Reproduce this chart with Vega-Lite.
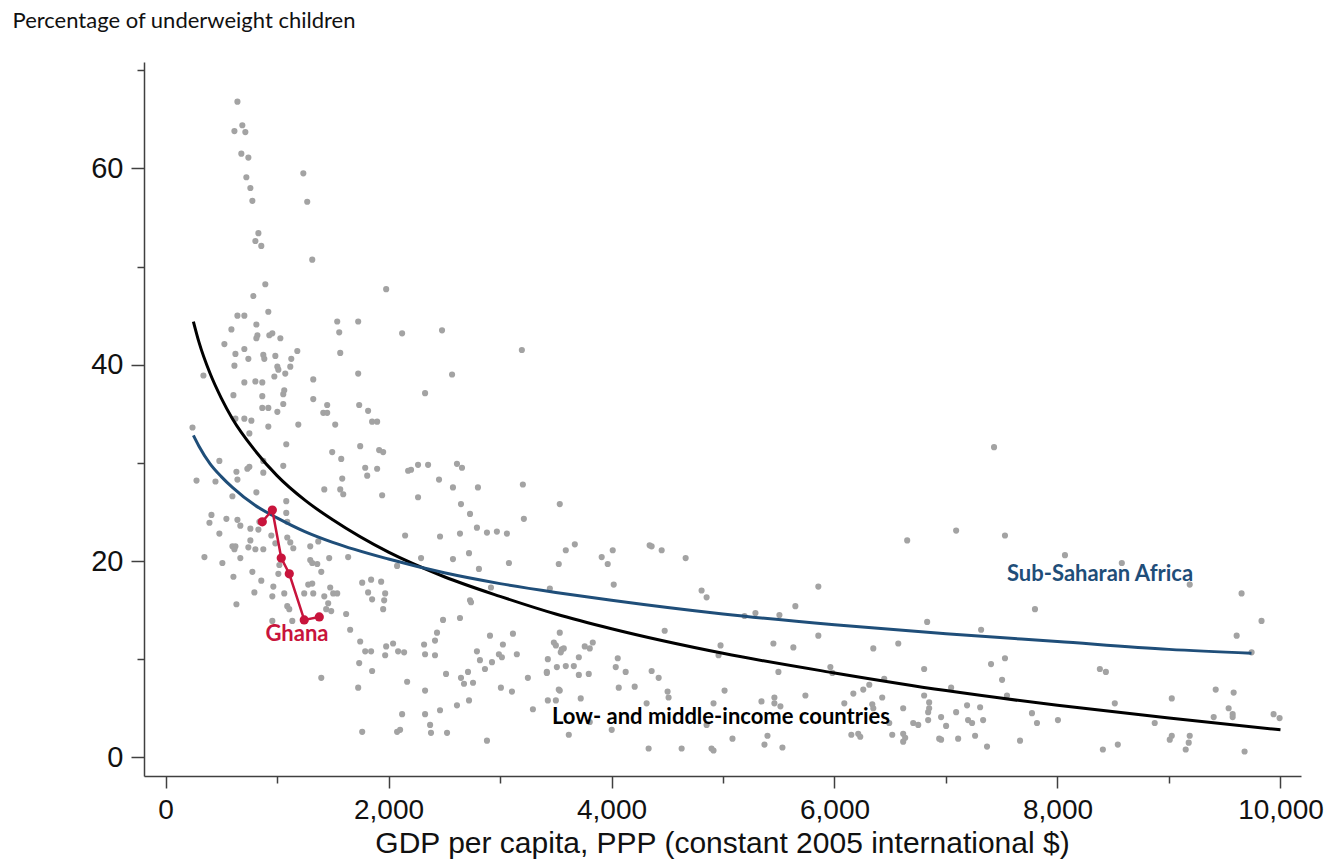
{
"$schema": "https://vega.github.io/schema/vega-lite/v6.json",
"width": 1157, "height": 714,
"autosize": {"type": "none"},
"padding": {"left": 144, "top": 62, "right": 43, "bottom": 83},
"background": "white",
"config": {"view": {"stroke": null}},
"datasets": {
"pts": [
{"x":645,"y":66.8},{"x":689,"y":64.4},{"x":618,"y":63.8},{"x":716,"y":63.7},{"x":680,"y":61.5},{"x":743,"y":61.1},{"x":725,"y":59.1},{"x":761,"y":58.0},{"x":779,"y":56.7},{"x":1236,"y":59.5},
{"x":1271,"y":56.6},{"x":833,"y":53.4},{"x":806,"y":52.6},{"x":859,"y":52.1},{"x":1316,"y":50.7},{"x":895,"y":48.2},{"x":788,"y":47.0},{"x":1979,"y":47.7},{"x":645,"y":45.0},{"x":707,"y":45.0},
{"x":922,"y":45.4},{"x":591,"y":43.6},{"x":815,"y":44.1},{"x":824,"y":43.0},{"x":815,"y":42.7},{"x":931,"y":43.0},{"x":958,"y":43.2},{"x":1030,"y":42.7},{"x":528,"y":42.1},{"x":1540,"y":44.4},
{"x":1728,"y":44.4},{"x":1558,"y":43.3},{"x":2122,"y":43.2},{"x":2480,"y":43.5},{"x":627,"y":41.1},{"x":707,"y":41.6},{"x":743,"y":40.6},{"x":877,"y":41.0},{"x":886,"y":40.6},{"x":985,"y":40.9},
{"x":1128,"y":40.6},{"x":1182,"y":41.4},{"x":1567,"y":41.2},{"x":618,"y":39.9},{"x":1003,"y":39.8},{"x":1012,"y":39.5},{"x":1119,"y":39.8},{"x":1074,"y":39.1},{"x":976,"y":38.8},{"x":1728,"y":39.1},
{"x":2570,"y":39.0},{"x":340,"y":38.9},{"x":1325,"y":38.5},{"x":3196,"y":41.5},{"x":707,"y":38.2},{"x":806,"y":38.3},{"x":868,"y":38.2},{"x":1065,"y":37.4},{"x":1056,"y":37.0},{"x":609,"y":36.9},
{"x":868,"y":36.8},{"x":1325,"y":36.5},{"x":2328,"y":37.1},{"x":868,"y":35.6},{"x":922,"y":35.6},{"x":1003,"y":35.2},{"x":1056,"y":36.0},{"x":1450,"y":35.9},{"x":1415,"y":35.1},{"x":1450,"y":35.1},
{"x":1737,"y":35.9},{"x":1817,"y":35.3},{"x":707,"y":34.5},{"x":770,"y":34.3},{"x":627,"y":34.5},{"x":922,"y":33.7},{"x":1191,"y":33.9},{"x":1522,"y":33.9},{"x":1853,"y":34.2},{"x":1898,"y":34.2},
{"x":752,"y":33.0},{"x":242,"y":33.6},{"x":1083,"y":31.9},{"x":1746,"y":31.7},{"x":1495,"y":31.1},{"x":1916,"y":31.3},{"x":1952,"y":31.1},{"x":1576,"y":30.4},{"x":636,"y":29.1},{"x":645,"y":28.3},
{"x":734,"y":29.4},{"x":752,"y":29.6},{"x":877,"y":30.2},{"x":877,"y":29.0},{"x":1056,"y":29.7},{"x":483,"y":30.2},{"x":448,"y":28.1},{"x":278,"y":28.2},{"x":1791,"y":29.5},{"x":1809,"y":28.7},
{"x":1898,"y":29.4},{"x":2202,"y":29.3},{"x":2265,"y":29.8},{"x":2355,"y":29.8},{"x":2614,"y":29.9},{"x":2659,"y":29.5},{"x":1585,"y":28.4},{"x":2453,"y":28.3},{"x":815,"y":27.0},{"x":1424,"y":27.3},
{"x":1567,"y":27.3},{"x":1594,"y":26.8},{"x":1943,"y":26.7},{"x":2265,"y":26.5},{"x":2578,"y":27.5},{"x":2802,"y":27.5},{"x":1083,"y":26.1},{"x":600,"y":26.6},{"x":2176,"y":29.2},{"x":412,"y":24.7},
{"x":394,"y":23.9},{"x":546,"y":24.3},{"x":645,"y":24.2},{"x":671,"y":23.6},{"x":483,"y":22.8},{"x":600,"y":21.5},{"x":627,"y":21.5},{"x":618,"y":21.2},{"x":671,"y":20.3},{"x":349,"y":20.4},
{"x":510,"y":19.8},{"x":609,"y":18.4},{"x":761,"y":23.3},{"x":833,"y":23.2},{"x":842,"y":24.0},{"x":743,"y":21.4},{"x":761,"y":22.1},{"x":806,"y":21.2},{"x":877,"y":21.2},{"x":949,"y":22.6},
{"x":985,"y":21.8},{"x":1083,"y":24.9},{"x":1092,"y":24.0},{"x":1092,"y":22.4},{"x":1119,"y":21.9},{"x":1146,"y":21.3},{"x":1298,"y":21.5},{"x":1370,"y":22.0},{"x":1298,"y":20.1},{"x":1316,"y":19.8},
{"x":1361,"y":19.7},{"x":1397,"y":18.9},{"x":1468,"y":20.3},{"x":1638,"y":20.4},{"x":1021,"y":19.6},{"x":1012,"y":18.7},{"x":779,"y":18.9},{"x":859,"y":18.0},{"x":797,"y":16.8},{"x":967,"y":17.4},
{"x":1065,"y":16.7},{"x":958,"y":16.4},{"x":636,"y":15.6},{"x":1092,"y":15.4},{"x":1110,"y":15.1},{"x":1280,"y":17.6},{"x":1316,"y":17.7},{"x":1244,"y":16.7},{"x":1325,"y":16.7},{"x":1424,"y":16.4},
{"x":1477,"y":17.3},{"x":1504,"y":16.7},{"x":1540,"y":16.7},{"x":1459,"y":15.7},{"x":1441,"y":15.1},{"x":1486,"y":14.9},{"x":958,"y":13.9},{"x":1137,"y":13.9},{"x":1620,"y":14.6},{"x":1656,"y":13.0},
{"x":1764,"y":17.8},{"x":1844,"y":18.1},{"x":1934,"y":17.9},{"x":1817,"y":16.8},{"x":1853,"y":16.1},{"x":1970,"y":16.7},{"x":1961,"y":16.0},{"x":1952,"y":15.1},{"x":1746,"y":11.8},{"x":1737,"y":9.6},
{"x":1791,"y":10.8},{"x":1844,"y":10.8},{"x":1853,"y":8.8},{"x":1979,"y":11.3},{"x":2041,"y":11.6},{"x":1970,"y":10.4},{"x":2086,"y":10.8},{"x":2140,"y":10.7},{"x":2167,"y":7.7},{"x":1397,"y":8.1},
{"x":1728,"y":7.1},{"x":2122,"y":4.4},{"x":1764,"y":2.6},{"x":2077,"y":2.6},{"x":2077,"y":19.5},{"x":2650,"y":25.8},{"x":2731,"y":24.8},{"x":3205,"y":27.8},{"x":3536,"y":25.8},{"x":3214,"y":24.3},
{"x":2149,"y":22.6},{"x":2462,"y":22.5},{"x":2641,"y":22.8},{"x":2793,"y":23.4},{"x":2883,"y":22.9},{"x":2972,"y":23.0},{"x":3062,"y":22.8},{"x":2292,"y":20.3},{"x":2578,"y":20.2},{"x":2722,"y":20.8},
{"x":3080,"y":19.8},{"x":2811,"y":19.2},{"x":3590,"y":21.1},{"x":3671,"y":21.7},{"x":3527,"y":19.7},{"x":3912,"y":20.4},{"x":3966,"y":19.7},{"x":4011,"y":21.1},{"x":4020,"y":17.6},{"x":4342,"y":21.6},
{"x":4360,"y":21.5},{"x":4450,"y":21.1},{"x":4665,"y":20.3},{"x":4808,"y":17.0},{"x":4853,"y":16.3},{"x":4477,"y":12.9},{"x":2919,"y":17.3},{"x":3447,"y":17.2},{"x":2731,"y":16.0},{"x":2740,"y":15.8},
{"x":2641,"y":14.2},{"x":2489,"y":14.0},{"x":2435,"y":12.7},{"x":2417,"y":11.9},{"x":2910,"y":12.4},{"x":3116,"y":12.6},{"x":3026,"y":11.5},{"x":3536,"y":12.7},{"x":3483,"y":11.7},{"x":3501,"y":11.4},
{"x":3554,"y":11.0},{"x":3572,"y":11.1},{"x":3760,"y":11.3},{"x":3805,"y":11.1},{"x":3832,"y":11.7},{"x":2319,"y":11.5},{"x":2328,"y":10.5},{"x":2417,"y":10.4},{"x":2793,"y":10.8},{"x":2990,"y":10.5},
{"x":3017,"y":10.2},{"x":3151,"y":10.5},{"x":2820,"y":9.9},{"x":2928,"y":9.7},{"x":2865,"y":9.0},{"x":2516,"y":8.5},{"x":2650,"y":8.1},{"x":2677,"y":7.5},{"x":2758,"y":7.6},{"x":2713,"y":8.7},
{"x":2328,"y":6.8},{"x":2614,"y":5.3},{"x":2722,"y":5.8},{"x":3008,"y":7.1},{"x":3107,"y":6.7},{"x":3250,"y":8.1},{"x":3420,"y":8.6},{"x":3510,"y":9.2},{"x":3590,"y":9.3},{"x":3707,"y":10.2},
{"x":3662,"y":9.3},{"x":3707,"y":8.4},{"x":3796,"y":8.5},{"x":3536,"y":6.8},{"x":3429,"y":5.8},{"x":3501,"y":5.8},{"x":3724,"y":6.0},{"x":3295,"y":4.9},{"x":4056,"y":10.1},{"x":4038,"y":9.2},
{"x":4127,"y":8.7},{"x":4065,"y":7.1},{"x":4208,"y":7.2},{"x":4360,"y":8.8},{"x":4423,"y":8.1},{"x":4503,"y":6.7},{"x":4512,"y":6.1},{"x":4315,"y":5.5},{"x":4978,"y":11.4},{"x":4960,"y":10.4},
{"x":5014,"y":6.8},{"x":4915,"y":5.5},{"x":2328,"y":4.4},{"x":2462,"y":4.8},{"x":2373,"y":3.3},{"x":2381,"y":2.5},{"x":2525,"y":2.5},{"x":2883,"y":1.7},{"x":3617,"y":2.3},{"x":4002,"y":2.8},
{"x":4333,"y":0.9},{"x":4629,"y":0.9},{"x":4897,"y":0.9},{"x":4915,"y":0.7},{"x":5085,"y":1.9},{"x":2104,"y":2.8},{"x":5855,"y":17.4},{"x":5291,"y":14.7},{"x":5506,"y":14.5},{"x":5649,"y":15.4},
{"x":3545,"y":10.7},{"x":3429,"y":10.0},{"x":5452,"y":11.6},{"x":5631,"y":11.2},{"x":5855,"y":12.4},{"x":3420,"y":8.7},{"x":3527,"y":6.9},{"x":5497,"y":8.7},{"x":5963,"y":9.2},{"x":5981,"y":8.6},
{"x":5345,"y":5.7},{"x":5461,"y":6.1},{"x":5461,"y":5.5},{"x":5515,"y":5.2},{"x":5739,"y":6.3},{"x":3805,"y":3.6},{"x":4853,"y":3.3},{"x":5399,"y":2.2},{"x":5372,"y":1.3},{"x":5533,"y":1.0},
{"x":7431,"y":31.6},{"x":7091,"y":23.1},{"x":7529,"y":22.6},{"x":6652,"y":22.1},{"x":6831,"y":13.8},{"x":7315,"y":13.0},{"x":7798,"y":15.1},{"x":6572,"y":11.6},{"x":6348,"y":11.1},{"x":6804,"y":9.0},
{"x":7404,"y":9.5},{"x":7529,"y":10.1},{"x":7503,"y":7.9},{"x":6446,"y":8.0},{"x":6312,"y":7.4},{"x":6258,"y":6.9},{"x":6169,"y":6.5},{"x":7547,"y":6.3},{"x":6804,"y":6.3},{"x":6849,"y":5.6},
{"x":6428,"y":6.1},{"x":7046,"y":7.1},{"x":6088,"y":5.5},{"x":6339,"y":5.4},{"x":6348,"y":5.0},{"x":6616,"y":5.0},{"x":6849,"y":5.0},{"x":6840,"y":4.6},{"x":7189,"y":5.3},{"x":7306,"y":5.1},
{"x":7091,"y":4.6},{"x":7771,"y":4.5},{"x":7816,"y":3.5},{"x":6956,"y":4.1},{"x":7001,"y":3.2},{"x":6840,"y":3.8},{"x":7198,"y":3.8},{"x":7234,"y":3.5},{"x":7333,"y":3.8},{"x":6706,"y":3.5},
{"x":6751,"y":3.3},{"x":6491,"y":3.5},{"x":6616,"y":2.4},{"x":6634,"y":2.0},{"x":6616,"y":1.6},{"x":6518,"y":2.3},{"x":6151,"y":2.3},{"x":6213,"y":2.4},{"x":6231,"y":2.1},{"x":6939,"y":1.9},
{"x":6956,"y":1.8},{"x":7109,"y":1.9},{"x":7261,"y":2.2},{"x":7368,"y":1.1},{"x":7664,"y":1.7},{"x":5193,"y":14.4},{"x":8067,"y":20.6},{"x":8577,"y":19.8},{"x":9186,"y":17.6},{"x":9651,"y":16.7},
{"x":9830,"y":13.9},{"x":9607,"y":12.4},{"x":9741,"y":10.7},{"x":8380,"y":9.0},{"x":8434,"y":8.7},{"x":9419,"y":6.9},{"x":9580,"y":6.6},{"x":9025,"y":6.0},{"x":8514,"y":5.5},{"x":8004,"y":3.8},
{"x":8872,"y":3.5},{"x":9535,"y":5.0},{"x":9571,"y":4.4},{"x":9571,"y":4.1},{"x":9401,"y":4.1},{"x":9938,"y":4.4},{"x":9992,"y":4.0},{"x":9025,"y":2.2},{"x":9007,"y":1.8},{"x":9186,"y":2.2},
{"x":9177,"y":1.5},{"x":8407,"y":0.8},{"x":8541,"y":1.3},{"x":9150,"y":0.8},{"x":9678,"y":0.6}
],
"lmic": [
{"x":250,"y":44.4},{"x":300,"y":42.3},{"x":400,"y":39.1},{"x":500,"y":36.6},{"x":600,"y":34.5},{"x":800,"y":31.3},{"x":1000,"y":28.7},{"x":1250,"y":26.2},{"x":1500,"y":24.2},{"x":2000,"y":20.9},
{"x":2500,"y":18.4},{"x":3000,"y":16.4},{"x":3500,"y":14.6},{"x":4000,"y":13.1},{"x":5000,"y":10.6},{"x":6000,"y":8.6},{"x":7000,"y":6.8},{"x":8000,"y":5.3},{"x":9000,"y":4.0},{"x":10000,"y":2.8}
],
"ssa": [
{"x":250,"y":32.8},{"x":300,"y":31.7},{"x":400,"y":29.9},{"x":500,"y":28.6},{"x":600,"y":27.5},{"x":800,"y":25.7},{"x":1000,"y":24.4},{"x":1250,"y":23.0},{"x":1500,"y":21.9},{"x":2000,"y":20.2},
{"x":2500,"y":18.8},{"x":3000,"y":17.7},{"x":3500,"y":16.8},{"x":4000,"y":16.0},{"x":5000,"y":14.6},{"x":6000,"y":13.5},{"x":7000,"y":12.6},{"x":8000,"y":11.8},{"x":9000,"y":11.0},{"x":9740,"y":10.6}
],
"ghana": [
{"o":1,"x":868,"y":24.0},{"o":2,"x":958,"y":25.2},{"o":3,"x":1038,"y":20.3},{"o":4,"x":1110,"y":18.7},{"o":5,"x":1244,"y":14.0},{"o":6,"x":1379,"y":14.3}
]
},
"encoding": {
"x": {"field": "x", "type": "quantitative",
  "scale": {"domain": [-193, 10184], "nice": false, "zero": false},
  "axis": {"values": [0,1000,2000,3000,4000,5000,6000,7000,8000,9000,10000],
    "labelExpr": "datum.value % 2000 === 0 ? format(datum.value, ',') : ''",
    "tickSize": {"condition": {"test": "datum.value % 2000 === 0", "value": 12}, "value": 7},
    "grid": false, "domainColor": "#404040", "domainWidth": 1.5, "tickColor": "#404040", "tickWidth": 1.5,
    "labelFont": "Liberation Sans", "labelFontSize": 28, "labelColor": "#111", "labelPadding": 8,
    "labelFlush": false, "labelOverlap": false,
    "title": "GDP per capita, PPP (constant 2005 international $)",
    "titleFont": "Liberation Sans", "titleFontSize": 30, "titleFontWeight": "normal", "titleColor": "#111",
    "titleX": 578, "titleY": 76, "titleAlign": "center", "titleBaseline": "alphabetic"}},
"y": {"field": "y", "type": "quantitative",
  "scale": {"domain": [-1.9, 70.84], "nice": false, "zero": false},
  "axis": {"values": [0,10,20,30,40,50,60,70],
    "labelExpr": "datum.value % 20 === 0 ? datum.label : ''",
    "tickSize": {"condition": {"test": "datum.value % 20 === 0", "value": 13}, "value": 7},
    "grid": false, "domainColor": "#404040", "domainWidth": 1.5, "tickColor": "#404040", "tickWidth": 1.5,
    "labelFont": "Liberation Sans", "labelFontSize": 29, "labelColor": "#111", "labelPadding": 8,
    "title": "Percentage of underweight children",
    "titleFont": "Lato", "titleFontSize": 22, "titleFontWeight": "normal", "titleColor": "#111",
    "titleAngle": 0, "titleAlign": "left", "titleBaseline": "alphabetic", "titleX": -132, "titleY": -35}}
},
"layer": [
{"data": {"name": "pts"}, "mark": {"type": "circle", "size": 38, "color": "#a3a3a3", "opacity": 1}},
{"data": {"name": "lmic"}, "mark": {"type": "line", "color": "#000000", "strokeWidth": 3, "interpolate": "monotone"}},
{"data": {"name": "ssa"}, "mark": {"type": "line", "color": "#1f4e79", "strokeWidth": 3, "interpolate": "monotone"}},
{"data": {"name": "ghana"}, "mark": {"type": "line", "color": "#c8143c", "strokeWidth": 2.5}, "encoding": {"order": {"field": "o"}}},
{"data": {"name": "ghana"}, "mark": {"type": "circle", "size": 85, "color": "#c8143c", "opacity": 1}},
{"data": {"values": [{"x": 3466, "y": 4.1, "label": "Low- and middle-income countries"}]},
 "mark": {"type": "text", "align": "left", "baseline": "middle", "font": "Lato", "fontSize": 22, "fontWeight": "bold", "color": "#000000"},
 "encoding": {"text": {"field": "label"}}},
{"data": {"values": [{"x": 7547, "y": 18.7, "label": "Sub-Saharan Africa"}]},
 "mark": {"type": "text", "align": "left", "baseline": "middle", "font": "Lato", "fontSize": 22, "fontWeight": "bold", "color": "#1f4e79"},
 "encoding": {"text": {"field": "label"}}},
{"data": {"values": [{"x": 1179, "y": 12.6, "label": "Ghana"}]},
 "mark": {"type": "text", "align": "center", "baseline": "middle", "font": "Lato", "fontSize": 22, "fontWeight": "bold", "color": "#c8143c"},
 "encoding": {"text": {"field": "label"}}}
]
}
